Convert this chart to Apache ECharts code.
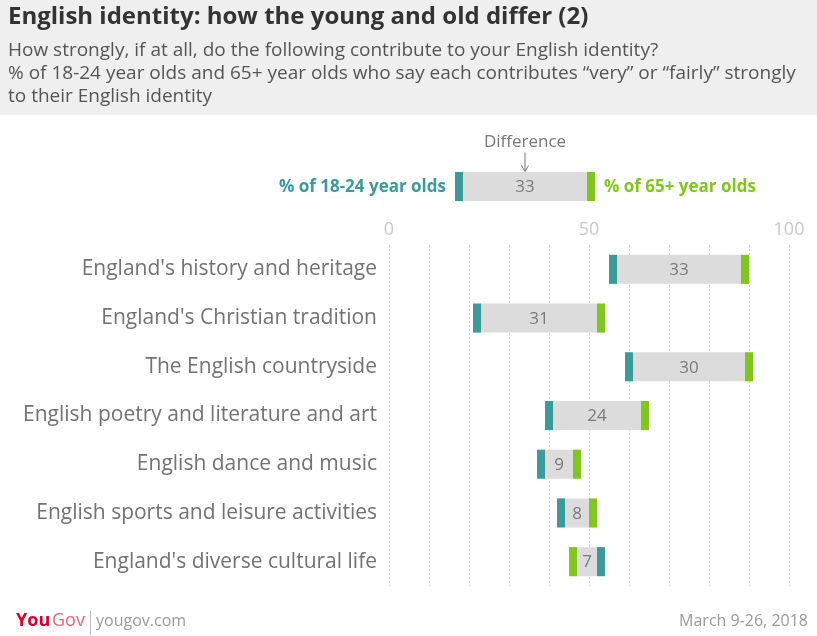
<!DOCTYPE html>
<html>
<head>
<meta charset="utf-8">
<script src="https://cdn.jsdelivr.net/npm/echarts@6/dist/echarts.min.js"></script>
<style>
  html, body { margin: 0; padding: 0; background: #fff; }
  #chart { width: 817px; height: 636px; }
</style>
</head>
<body>
<div id="chart"></div>
<script>
// Share of each age group saying the item contributes "very" or "fairly" strongly
const categories = [
  "England's history and heritage",
  "England's Christian tradition",
  "The English countryside",
  "English poetry and literature and art",
  "English dance and music",
  "English sports and leisure activities",
  "England's diverse cultural life"
];
const young18to24 = [56, 22, 60, 40, 38, 43, 53];
const old65plus   = [89, 53, 90, 64, 47, 51, 46];

// Key row explaining the marks
const keyYoung = [17.5];
const keyOld = [50.5];

const axisTicks = [0, 50, 100];

const TEAL = '#3c9a9d';
const GREEN = '#80c61f';
const GREY_BAR = '#dcdcdc';
const FONT = '"Open Sans", Lato, sans-serif';
const BAR_H = 29;
const MARK_W = 8;

function renderRange(params, api) {
  const cat = api.value(0);
  const young = api.value(1);
  const old = api.value(2);
  const pY = api.coord([young, cat]);
  const pO = api.coord([old, cat]);
  const lo = Math.min(pY[0], pO[0]) - MARK_W / 2;
  const hi = Math.max(pY[0], pO[0]) + MARK_W / 2;
  const top = pY[1] - BAR_H / 2;
  const diff = Math.round(Math.abs(old - young));
  return {
    type: 'group',
    children: [
      { type: 'rect', shape: { x: lo, y: top, width: hi - lo, height: BAR_H }, style: { fill: GREY_BAR } },
      { type: 'rect', shape: { x: pY[0] - MARK_W / 2, y: top, width: MARK_W, height: BAR_H }, style: { fill: TEAL } },
      { type: 'rect', shape: { x: pO[0] - MARK_W / 2, y: top, width: MARK_W, height: BAR_H }, style: { fill: GREEN } },
      {
        type: 'text', x: (lo + hi) / 2, y: pY[1] + 1,
        style: { text: String(diff), fill: '#7a7a7a', font: '17px ' + FONT, align: 'center', verticalAlign: 'middle' }
      }
    ]
  };
}

function renderKey(params, api) {
  const base = renderRange(params, api);
  const cat = api.value(0);
  const pY = api.coord([api.value(1), cat]);
  const pO = api.coord([api.value(2), cat]);
  const mid = (pY[0] + pO[0]) / 2;
  base.children.push(
    { type: 'text', x: pY[0] - MARK_W / 2 - 9, y: pY[1] + 1,
      style: { text: '% of 18-24 year olds', fill: TEAL, font: 'bold 17px ' + FONT, align: 'right', verticalAlign: 'middle' } },
    { type: 'text', x: pO[0] + MARK_W / 2 + 9, y: pY[1] + 1,
      style: { text: '% of 65+ year olds', fill: GREEN, font: 'bold 17px ' + FONT, align: 'left', verticalAlign: 'middle' } },
    { type: 'text', x: mid, y: pY[1] - 44,
      style: { text: 'Difference', fill: '#777', font: '17px ' + FONT, align: 'center', verticalAlign: 'middle' } },
    { type: 'line', shape: { x1: mid, y1: pY[1] - 34, x2: mid, y2: pY[1] - 16 }, style: { stroke: '#777', lineWidth: 1 } },
    { type: 'polyline', shape: { points: [[mid - 3.5, pY[1] - 21], [mid, pY[1] - 15], [mid + 3.5, pY[1] - 21]] },
      style: { stroke: '#777', lineWidth: 1, fill: null } }
  );
  return base;
}

const chart = echarts.init(document.getElementById('chart'), null, { renderer: 'canvas' });

chart.setOption({
  backgroundColor: '#ffffff',
  animation: false,
  graphic: [
    { type: 'rect', left: 0, top: 0, shape: { width: 817, height: 115 }, style: { fill: '#efefef' }, z: -10 },
    { type: 'text', left: 8, top: 5, style: { text: 'English identity: how the young and old differ (2)', fill: '#333', font: 'bold 24px ' + FONT } },
    { type: 'text', left: 8, top: 41, style: { text: 'How strongly, if at all, do the following contribute to your English identity?', fill: '#555', font: '19px ' + FONT } },
    { type: 'text', left: 8, top: 64, style: { text: '% of 18-24 year olds and 65+ year olds who say each contributes \u201cvery\u201d or \u201cfairly\u201d strongly', fill: '#555', font: '19px ' + FONT } },
    { type: 'text', left: 8, top: 87, style: { text: 'to their English identity', fill: '#555', font: '19px ' + FONT } },
    { type: 'text', left: 16, top: 612, style: { text: 'You', fill: '#d8002a', font: 'bold 18px ' + FONT } },
    { type: 'text', left: 52, top: 612, style: { text: 'Gov', fill: '#e3677c', font: '18px ' + FONT } },
    { type: 'rect', left: 90, top: 611, shape: { width: 1, height: 24 }, style: { fill: '#bbb' } },
    { type: 'text', left: 96, top: 613, style: { text: 'yougov.com', fill: '#999', font: '16px ' + FONT } },
    { type: 'text', right: 9, top: 613, style: { text: 'March 9-26, 2018', fill: '#999', font: '16px ' + FONT } }
  ],
  grid: [
    { left: 389, right: 28, top: 245, height: 341 },
    { left: 389, right: 28, top: 172, height: 29 }
  ],
  xAxis: [
    {
      type: 'value', gridIndex: 0, position: 'top', min: 0, max: 100, interval: 10,
      axisLine: { show: false }, axisTick: { show: false },
      axisLabel: {
        color: '#c8c8c8', fontSize: 18, fontFamily: FONT, margin: 6,
        formatter: v => (axisTicks.indexOf(v) >= 0 ? String(v) : '')
      },
      splitLine: { show: true, lineStyle: { color: '#cfcfcf', type: [2, 2], width: 1 } }
    },
    { type: 'value', gridIndex: 1, min: 0, max: 100, show: false }
  ],
  yAxis: [
    {
      type: 'category', gridIndex: 0, data: categories, inverse: true,
      axisLine: { show: false }, axisTick: { show: false },
      axisLabel: { color: '#727272', fontSize: 21, fontFamily: FONT, margin: 12, padding: [4, 0, 0, 0] }
    },
    { type: 'category', gridIndex: 1, data: ['key'], show: false }
  ],
  series: [
    {
      type: 'custom', xAxisIndex: 0, yAxisIndex: 0,
      renderItem: renderRange,
      encode: { x: [1, 2], y: 0 },
      data: categories.map((c, i) => [c, young18to24[i], old65plus[i]])
    },
    {
      type: 'custom', xAxisIndex: 1, yAxisIndex: 1,
      renderItem: renderKey,
      encode: { x: [1, 2], y: 0 },
      data: [['key', keyYoung[0], keyOld[0]]]
    }
  ]
});
</script>
</body>
</html>
